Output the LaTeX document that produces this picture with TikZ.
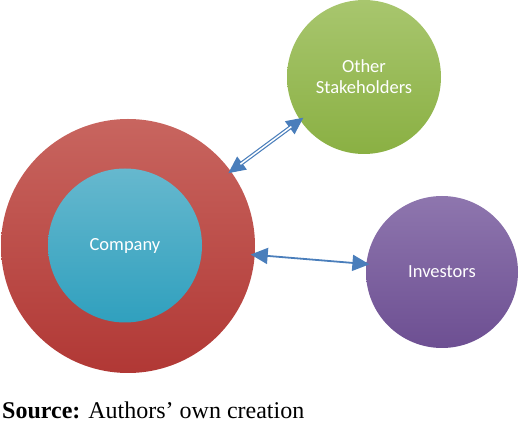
\documentclass[tikz,border=0pt]{standalone}
\usepackage{fontspec}
\setmainfont{Liberation Serif}
\newfontfamily\calfont{Carlito}
\usetikzlibrary{arrows.meta}
\definecolor{redtop}{HTML}{C8655F}
\definecolor{redbot}{HTML}{B13835}
\definecolor{cyantop}{HTML}{66B8CE}
\definecolor{cyanbot}{HTML}{30A0BE}
\definecolor{greentop}{HTML}{A8C66E}
\definecolor{greenbot}{HTML}{8AB043}
\definecolor{purptop}{HTML}{8E76AE}
\definecolor{purpbot}{HTML}{6D4F92}
\definecolor{arrowblue}{HTML}{4A7EBB}
\tikzset{
  ball/.style={circle, inner sep=0pt, outer sep=0pt, text=white, align=center,
    font=\calfont\fontsize{18.5}{21}\selectfont},
  bluehead/.tip={Triangle[length=17pt,width=16pt,fill=arrowblue]},
  headline/.style={draw=arrowblue, line width=1.2pt, bluehead-bluehead},
  hollowshaft/.style={draw=arrowblue, line width=1.2pt, double=white, double distance=1.5pt},
  solidline/.style={draw=arrowblue, line width=1.8pt, bluehead-bluehead}
}
\begin{document}
\begin{tikzpicture}[x=1pt,y=-1pt]
\useasboundingbox (0,0) rectangle (520,427);
\node[ball, minimum size=254pt, top color=redtop, bottom color=redbot] (outer) at (128,246) {};
\node[ball, minimum size=154pt, top color=cyantop, bottom color=cyanbot] (company) at (125,245.5) {Company};
\node[ball, minimum size=154pt, top color=greentop, bottom color=greenbot] (other) at (364,77) {Other\\Stakeholders};
\node[ball, minimum size=152pt, top color=purptop, bottom color=purpbot] (investors) at (442,272) {Investors};
\draw[headline, shorten <=-3pt, shorten >=-4pt] (outer.36) -- (other.214);
\draw[hollowshaft, shorten <=12pt, shorten >=11pt] (outer.36) -- (other.214);
\draw[solidline, shorten <=-4pt, shorten >=-3pt] (outer.-4.7) -- (investors.174.5);
\node[anchor=base west, inner sep=0pt, font=\fontsize{24}{28}\selectfont] (src) at (2,419) {\textbf{Source:} Authors’ own creation};
\end{tikzpicture}
\end{document}
